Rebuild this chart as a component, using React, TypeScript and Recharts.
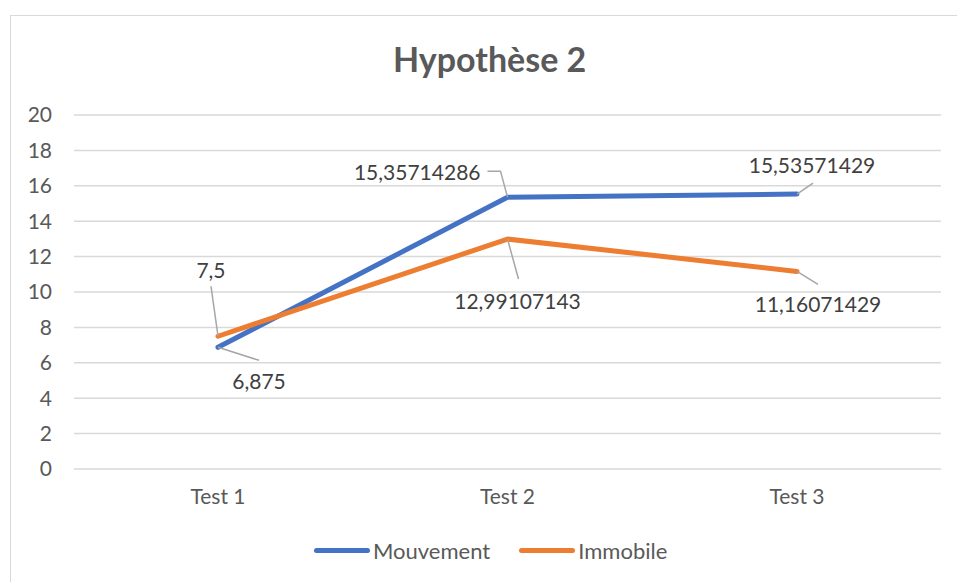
import React from 'react';
import { LineChart, Line, XAxis, YAxis, CartesianGrid, LabelList } from 'recharts';

const categories = ['Test 1', 'Test 2', 'Test 3'];
const mouvement = [6.875, 15.35714286, 15.53571429];
const immobile = [7.5, 12.99107143, 11.16071429];
const yTicks = [0, 2, 4, 6, 8, 10, 12, 14, 16, 18, 20];

const data = categories.map((name, i) => ({ name, mouvement: mouvement[i], immobile: immobile[i] }));

const BLUE = '#4472C4';
const ORANGE = '#ED7D31';
const FONT = 'Lato, "Open Sans", sans-serif';

// leader line bends and text placement, relative to the point
type LabelPos = { path: number[][]; tx: number; ty: number; anchor: 'start' | 'middle' | 'end' };
const mouvementLabels: LabelPos[] = [
  { path: [[41, 13]], tx: 41, ty: 33, anchor: 'middle' },
  { path: [[-7, -26], [-20, -26]], tx: -27, ty: -26, anchor: 'end' },
  { path: [[16, -11]], tx: 15, ty: -30, anchor: 'middle' },
];
const immobileLabels: LabelPos[] = [
  { path: [[-7, -50]], tx: -7, ty: -67, anchor: 'middle' },
  { path: [[11, 40]], tx: 10, ty: 61, anchor: 'middle' },
  { path: [[21, 13]], tx: 21, ty: 32, anchor: 'middle' },
];

const fmt = (v: number) => String(v).replace('.', ',');

const makeLabel = (positions: LabelPos[]) => (props: any) => {
  const { x, y, index, value } = props;
  const p = positions[index];
  if (!p) return null;
  const pts = [[x, y], ...p.path.map(([dx, dy]) => [x + dx, y + dy])];
  return (
    <g>
      <polyline points={pts.map((q) => q.join(',')).join(' ')} fill="none" stroke="#A6A6A6" strokeWidth={1.5} />
      <text
        x={x + p.tx}
        y={y + p.ty}
        textAnchor={p.anchor}
        dominantBaseline="central"
        fill="#404040"
        fontSize={21}
        fontFamily={FONT}
      >
        {fmt(value)}
      </text>
    </g>
  );
};

const LegendItem: React.FC<{ color: string; label: string }> = ({ color, label }) => (
  <div style={{ display: 'flex', alignItems: 'center', marginRight: 29 }}>
    <div style={{ width: 56, height: 5, borderRadius: 3, background: color, marginRight: 3 }} />
    <span style={{ fontSize: 22, color: '#595959', fontFamily: FONT }}>{label}</span>
  </div>
);

const App: React.FC = () => {
  return (
    <div style={{ position: 'absolute', left: 0, top: 0, width: 957, height: 582, overflow: 'hidden', background: '#fff' }}>
      <div
        style={{
          position: 'absolute',
          left: 10,
          top: 15,
          width: 960,
          height: 600,
          border: '1.5px solid #D9D9D9',
          boxSizing: 'border-box',
        }}
      />
      <div
        style={{
          position: 'absolute',
          left: 393,
          top: 38,
          fontFamily: FONT,
          fontWeight: 700,
          fontSize: 34,
          color: '#595959',
          whiteSpace: 'nowrap',
        }}
      >
        Hypothèse 2
      </div>
      <div style={{ position: 'absolute', left: 0, top: 0 }}>
        <LineChart width={957} height={582} data={data} margin={{ top: 115, right: 16, bottom: 83, left: 0 }}>
          <CartesianGrid vertical={false} stroke="#D9D9D9" strokeWidth={1.5} />
          <XAxis
            dataKey="name"
            axisLine={false}
            tickLine={false}
            tickSize={0}
            tickMargin={20}
            height={30}
            padding={{ left: 144, right: 144 }}
            tick={{ fill: '#595959', fontSize: 21, fontFamily: FONT }}
          />
          <YAxis
            domain={[0, 20]}
            ticks={yTicks}
            width={74}
            axisLine={false}
            tickLine={false}
            tickSize={0}
            tickMargin={22}
            tick={{ fill: '#595959', fontSize: 21, fontFamily: FONT }}
          />
          <Line
            dataKey="mouvement"
            name="Mouvement"
            stroke={BLUE}
            strokeWidth={5}
            dot={false}
            isAnimationActive={false}
            strokeLinecap="round"
            strokeLinejoin="round"
          >
            <LabelList dataKey="mouvement" content={makeLabel(mouvementLabels)} />
          </Line>
          <Line
            dataKey="immobile"
            name="Immobile"
            stroke={ORANGE}
            strokeWidth={5}
            dot={false}
            isAnimationActive={false}
            strokeLinecap="round"
            strokeLinejoin="round"
          >
            <LabelList dataKey="immobile" content={makeLabel(immobileLabels)} />
          </Line>
        </LineChart>
      </div>
      <div style={{ position: 'absolute', left: 314, top: 537, display: 'flex' }}>
        <LegendItem color={BLUE} label="Mouvement" />
        <LegendItem color={ORANGE} label="Immobile" />
      </div>
    </div>
  );
};

export default App;
